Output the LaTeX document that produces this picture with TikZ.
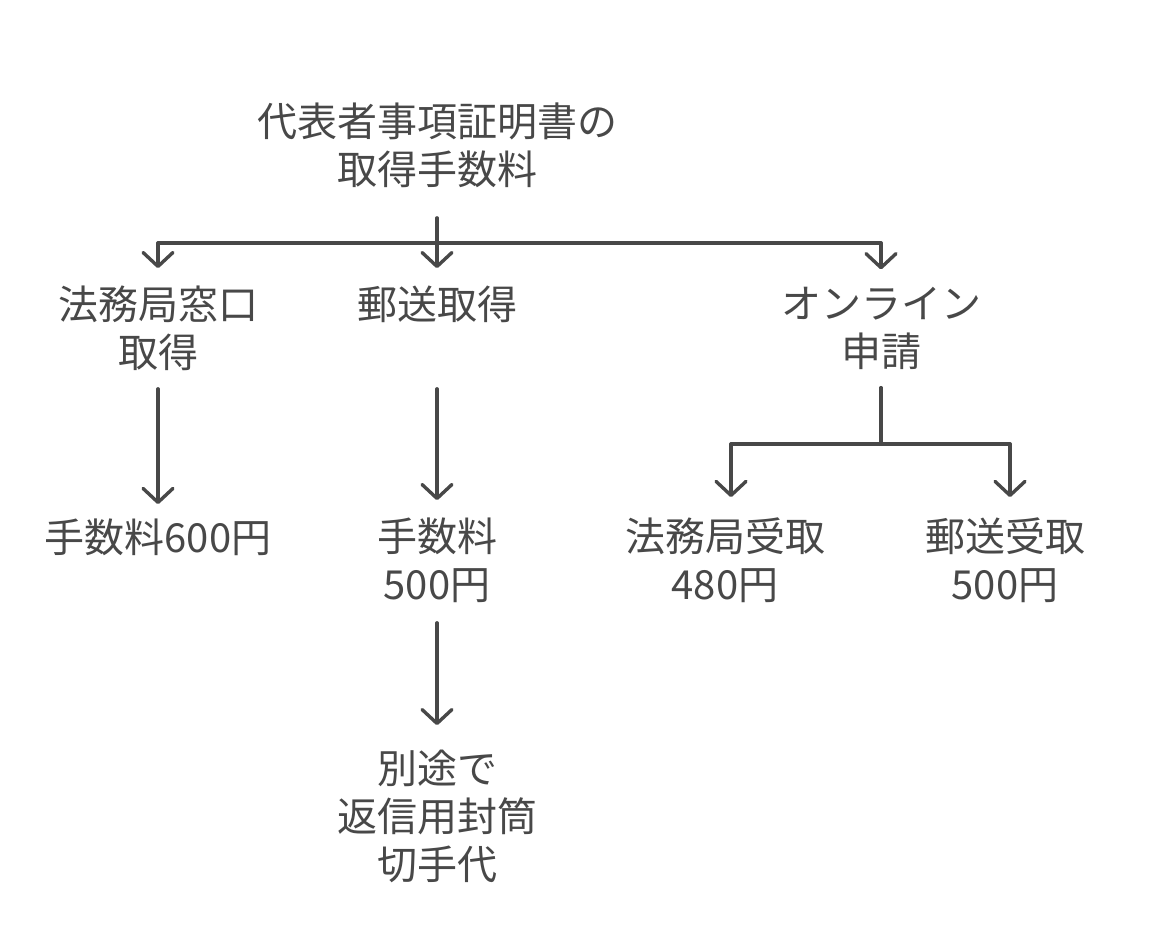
\documentclass[tikz,border=0pt]{standalone}
\usepackage{fontspec}
\setmainfont{Noto Sans CJK JP}
\usetikzlibrary{arrows.meta}
\definecolor{ink}{HTML}{484848}
\tikzset{
  lbl/.style={text=ink, font=\fontsize{20pt}{24pt}\selectfont, align=center, inner sep=0pt},
  conn/.style={draw=ink, line width=1.7pt, line cap=round, line join=round},
  arr/.style={conn, -{Straight Barb[length=7pt,width=15pt,round]}}
}
\begin{document}
\begin{tikzpicture}[x=0.5pt,y=-0.5pt]
\useasboundingbox (0,0) rectangle (1156,940);
% nodes
\node[lbl] (root) at (437,145) {代表者事項証明書の\\取得手数料};
\node[lbl] (win) at (158,328) {法務局窓口\\取得};
\node[lbl] (mail) at (437,304) {郵送取得};
\node[lbl] (online) at (881,328) {オンライン\\申請};
\node[lbl] (fee600) at (158,537) {手数料600円};
\node[lbl] (fee500) at (437,560) {手数料\\500円};
\node[lbl] (extra) at (437,816) {別途で\\返信用封筒\\切手代};
\node[lbl] (ob480) at (725,560) {法務局受取\\480円};
\node[lbl] (om500) at (1005,560) {郵送受取\\500円};
% junction coordinates
\coordinate (bus) at (437,243);
\coordinate (obus) at (881,444);
\coordinate (obL) at (731,444);
\coordinate (obR) at (1010,444);
% root connectors
\draw[conn] ([yshift=-15pt]root.south) -- (bus);
\draw[conn] (bus -| win) -- (bus -| online);
\draw[arr] (bus -| win) -- ([yshift=8.5pt]win.north);
\draw[arr] (bus) -- ([yshift=8.5pt]mail.north);
\draw[arr] (bus -| online) -- ([yshift=8.5pt]online.north);
% branch connectors
\draw[arr] ([yshift=-9pt]win.south) -- ([yshift=7pt]fee600.north);
\draw[arr] ([yshift=-9pt]mail.south |- win.south) -- ([yshift=8.5pt]fee500.north);
\draw[arr] ([yshift=-10pt]fee500.south) -- ([yshift=12pt]extra.north);
% online connectors
\draw[conn] ([yshift=-9pt]online.south) -- (obus);
\draw[conn] (obL) -- (obR);
\draw[arr] (obL) -- ([xshift=3pt,yshift=10pt]ob480.north);
\draw[arr] (obR) -- ([xshift=2.5pt,yshift=10pt]om500.north);
\end{tikzpicture}
\end{document}
